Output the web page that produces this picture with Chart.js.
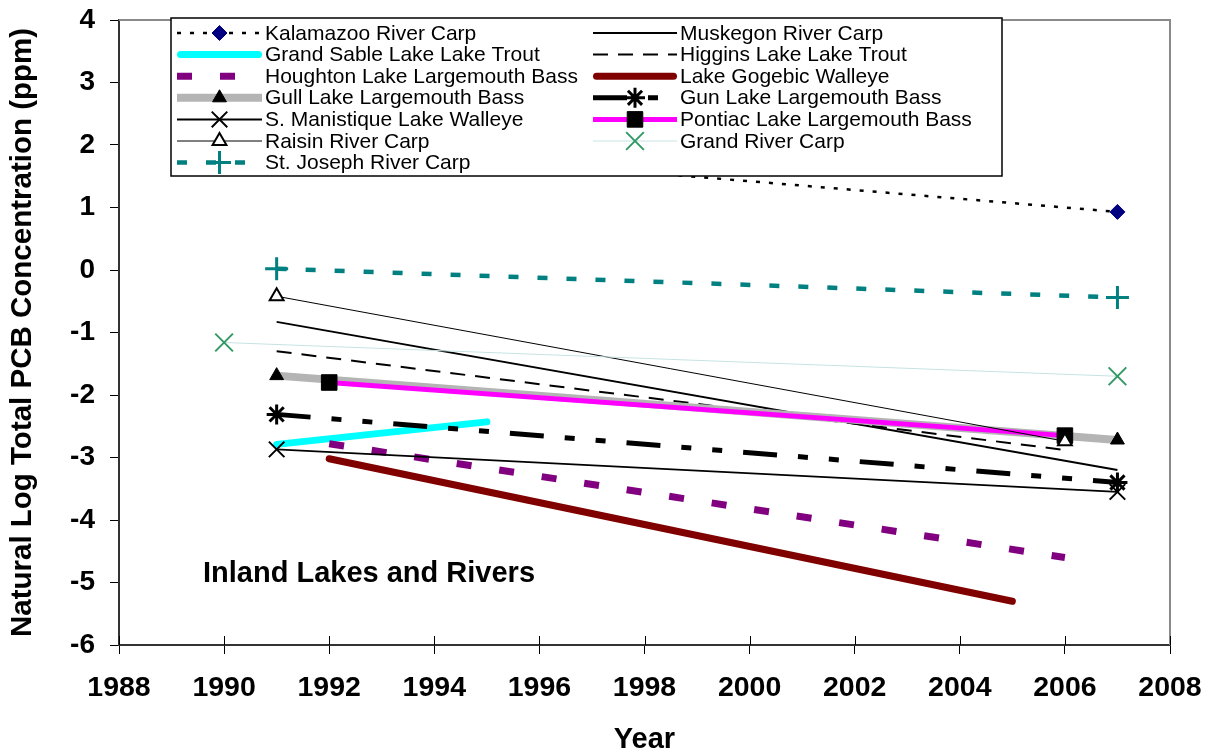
<!DOCTYPE html>
<html>
<head>
<meta charset="utf-8">
<script src="https://cdn.jsdelivr.net/npm/chart.js@4.4.1/dist/chart.umd.min.js"></script>
<style>
  html, body { margin: 0; background: #fff; }
  canvas { display: block; }
</style>
</head>
<body>
<canvas id="myChart" width="1216" height="755"></canvas>
<script>
const seriesNames = [
  "Kalamazoo River Carp",
  "Muskegon River Carp",
  "Grand Sable Lake Lake Trout",
  "Higgins Lake Lake Trout",
  "Houghton Lake Largemouth Bass",
  "Lake Gogebic Walleye",
  "Gull Lake Largemouth Bass",
  "Gun Lake Largemouth Bass",
  "S. Manistique Lake Walleye",
  "Pontiac Lake Largemouth Bass",
  "Raisin River Carp",
  "Grand River Carp",
  "St. Joseph River Carp",
];

const seriesYears = [
  [1991, 2007],
  [1991, 2007],
  [1991, 1995],
  [1991, 2006],
  [1992, 2006],
  [1992, 2005],
  [1991, 2007],
  [1991, 2007],
  [1991, 2007],
  [1992, 2006],
  [1991, 2006],
  [1990, 2007],
  [1991, 2007],
];

const seriesValues = [
  [2.05, 0.93],
  [-0.83, -3.2],
  [-2.79, -2.43],
  [-1.3, -2.88],
  [-2.78, -4.6],
  [-3.02, -5.3],
  [-1.69, -2.72],
  [-2.31, -3.4],
  [-2.87, -3.55],
  [-1.8, -2.65],
  [-0.42, -2.74],
  [-1.16, -1.7],
  [0.02, -0.44],
];

const insetLabel = "Inland Lakes and Rivers";

// line / marker look of each series
const styles = [
  { color: "#000", width: 2.5, dash: [4, 9], point: "rectRot", r: 7.5, pFill: "#000080", pLine: "#000080", pw: 1 },
  { color: "#000", width: 2, point: false },
  { color: "#00ffff", width: 7, cap: "round", point: false },
  { color: "#000", width: 2, dash: [15, 10], point: false },
  { color: "#800080", width: 7, dash: [15, 28], point: false },
  { color: "#800000", width: 7, cap: "round", point: false },
  { color: "#b4b4b4", width: 8, point: "triangle", r: 8, pFill: "#000", pLine: "#000", pw: 1 },
  { color: "#000", width: 5, dash: [34, 21, 10, 21, 10, 21], point: "star", r: 10, pFill: "#000", pLine: "#000", pw: 3 },
  { color: "#000", width: 2, point: "crossRot", r: 11, pFill: "#000", pLine: "#000", pw: 2 },
  { color: "#ff00ff", width: 5, point: "rect", r: 11, pFill: "#000", pLine: "#000", pw: 1 },
  { color: "#000", width: 1, point: "triangle", r: 8, pFill: "#fff", pLine: "#000", pw: 2 },
  { color: "#c6e2e2", width: 1, point: "crossRot", r: 12.5, pFill: "#339966", pLine: "#339966", pw: 2 },
  { color: "#008080", width: 4.5, dash: [10, 19], point: "cross", r: 11.5, pFill: "#008080", pLine: "#008080", pw: 3 },
];

const FONT = "'Liberation Sans', Arial, sans-serif";

const datasets = seriesNames.map((name, i) => {
  const s = styles[i];
  return {
    label: name,
    data: seriesYears[i].map((yr, j) => ({ x: yr, y: seriesValues[i][j] })),
    showLine: true,
    borderColor: s.color,
    backgroundColor: s.color,
    borderWidth: s.width,
    borderDash: s.dash || [],
    borderCapStyle: s.cap || "butt",
    pointStyle: s.point || "circle",
    pointRadius: s.point ? s.r : 0,
    pointBackgroundColor: s.pFill || s.color,
    pointBorderColor: s.pLine || s.color,
    pointBorderWidth: s.pw || 1,
    order: seriesNames.length - i,
    tension: 0,
  };
});

const extras = {
  id: "extras",
  beforeDatasetsDraw(chart) {
    const { ctx, chartArea: a, scales } = chart;
    ctx.save();
    // grey frame on top and right
    ctx.strokeStyle = "#8a8a8a";
    ctx.lineWidth = 2;
    ctx.beginPath();
    ctx.moveTo(a.left, a.top);
    ctx.lineTo(a.right, a.top);
    ctx.lineTo(a.right, a.bottom);
    ctx.stroke();
    // inner half of the crossing x ticks
    ctx.strokeStyle = "#000";
    ctx.lineWidth = 1;
    scales.x.ticks.forEach(t => {
      const px = Math.round(scales.x.getPixelForValue(t.value)) + 0.5;
      ctx.beginPath();
      ctx.moveTo(px, a.bottom);
      ctx.lineTo(px, a.bottom - 9);
      ctx.stroke();
    });
    ctx.restore();
  },
  afterDatasetsDraw(chart) {
    const { ctx } = chart;
    ctx.save();
    ctx.fillStyle = "#000";
    ctx.font = "bold 29px " + FONT;
    ctx.textBaseline = "alphabetic";
    ctx.fillText(insetLabel, 203, 582);

    // legend box
    const box = { x: 171, y: 18, w: 831, h: 158 };
    ctx.fillStyle = "#fff";
    ctx.fillRect(box.x, box.y, box.w, box.h);
    ctx.strokeStyle = "#000";
    ctx.lineWidth = 1.5;
    ctx.strokeRect(box.x, box.y, box.w, box.h);

    ctx.font = "21px " + FONT;
    chart.data.datasets.forEach((ds, i) => {
      const col = i % 2, row = Math.floor(i / 2);
      const base = 39.5 + row * 21.6;
      const y = base - 6.5;
      const x0 = col ? 593 : 177, x1 = col ? 677 : 262;
      const tx = col ? 680 : 265;
      const capPad = ds.borderCapStyle === "round" ? ds.borderWidth / 2 : 0;
      ctx.save();
      ctx.strokeStyle = ds.borderColor;
      ctx.lineWidth = ds.borderWidth;
      ctx.lineCap = ds.borderCapStyle;
      ctx.setLineDash(ds.borderDash);
      ctx.beginPath();
      ctx.moveTo(x0 + capPad, y);
      ctx.lineTo(x1 - capPad, y);
      ctx.stroke();
      ctx.setLineDash([]);
      if (ds.pointRadius > 0) {
        ctx.fillStyle = ds.pointBackgroundColor;
        ctx.strokeStyle = ds.pointBorderColor;
        ctx.lineWidth = ds.pointBorderWidth;
        Chart.helpers.drawPoint(ctx, {
          pointStyle: ds.pointStyle, radius: ds.pointRadius, rotation: 0, borderWidth: ds.pointBorderWidth,
        }, (x0 + x1) / 2, y);
      }
      ctx.restore();
      ctx.fillStyle = "#000";
      ctx.fillText(ds.label, tx, base);
    });
    ctx.restore();
  },
};

const config = {
  type: "scatter",
  data: { datasets },
  plugins: [extras],
  options: {
    responsive: false,
    animation: false,
    devicePixelRatio: 1,
    events: [],
    layout: { autoPadding: false, padding: { top: 20, right: 46, left: 0, bottom: 0 } },
    plugins: { legend: { display: false }, tooltip: { enabled: false } },
    scales: {
      x: {
        type: "linear",
        min: 1988,
        max: 2008,
        afterFit: s => { s.height = 110; s.paddingLeft = 0; s.paddingRight = 0; },
        ticks: {
          stepSize: 2,
          padding: 17,
          color: "#000",
          font: { family: FONT, size: 28.5, weight: "bold" },
          callback: v => String(v),
        },
        grid: { drawOnChartArea: false, tickLength: 9, color: "#000", lineWidth: 1 },
        border: { color: "#333", width: 2 },
        title: {
          display: true,
          text: "Year",
          color: "#000",
          font: { family: FONT, size: 29, weight: "bold", lineHeight: 1 },
          padding: { top: 0, bottom: 1 },
        },
      },
      y: {
        type: "linear",
        min: -6,
        max: 4,
        afterFit: s => { s.width = 119; s.paddingTop = 0; s.paddingBottom = 0; },
        ticks: {
          stepSize: 1,
          padding: 15,
          color: "#000",
          font: { family: FONT, size: 28, weight: "bold" },
        },
        grid: { drawOnChartArea: false, tickLength: 9, color: "#000", lineWidth: 1 },
        border: { color: "#333", width: 2 },
        title: {
          display: true,
          text: "Natural Log Total PCB Concentration (ppm)",
          color: "#000",
          font: { family: FONT, size: 29.5, weight: "bold", lineHeight: 1 },
          padding: { top: 8, bottom: 0 },
        },
      },
    },
  },
};

const myChart = new Chart(document.querySelector("#myChart"), config);
</script>
</body>
</html>
